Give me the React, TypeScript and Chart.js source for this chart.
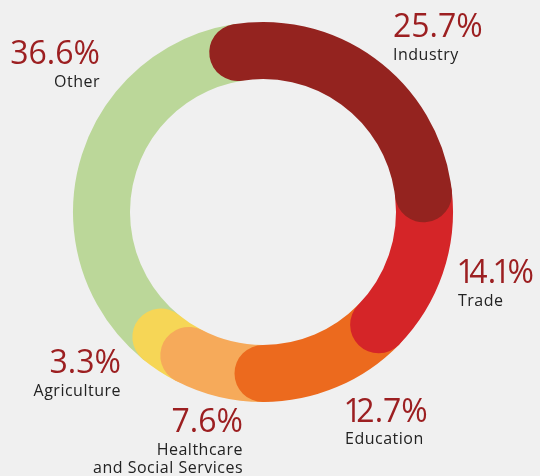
import React, { useEffect, useRef } from "react";
import { Chart, registerables } from "chart.js";

Chart.register(...registerables);

const categories = ["Industry", "Trade", "Education", "Healthcare and Social Services", "Agriculture", "Other"];
const nameLines = [["Industry"], ["Trade"], ["Education"], ["Healthcare", "and Social Services"], ["Agriculture"], ["Other"]];
const shares = [25.7, 14.1, 12.7, 7.6, 3.3, 36.6];
const colors = ["#94231f", "#d52528", "#ec6a1e", "#f6aa5a", "#f6d656", "#bbd799"];

// label layout (text placement only)
const labelLayout = [
  { x: 393, pct: 37, name: 60, align: "left" },
  { x: 458, pct: 283, name: 306, align: "left" },
  { x: 345, pct: 422, name: 444, align: "left" },
  { x: 243, pct: 432, name: 455, align: "right" },
  { x: 121, pct: 373, name: 396, align: "right" },
  { x: 100, pct: 64, name: 87, align: "right" },
];

function drawPct(ctx: any, text: string, x: number, y: number, align: string) {
  const chars = text.split("");
  const adv = chars.map((c) => {
    const w = ctx.measureText(c).width;
    return c === "1" ? w * 0.62 : w;
  });
  const total = adv.reduce((a, b) => a + b, 0);
  let cx = align === "right" ? x - total : x;
  ctx.textAlign = "left";
  chars.forEach((c, i) => {
    const w = ctx.measureText(c).width;
    const shift = c === "1" ? (w - adv[i]) / 2 - (i === 0 ? 2 : 0) : 0;
    ctx.fillText(c, cx - shift, y);
    cx += adv[i];
  });
}

const roundRingPlugin = {
  id: "roundRing",
  afterDatasetsDraw(chart: any) {
    const meta = chart.getDatasetMeta(0);
    const ctx = chart.ctx;
    ctx.save();
    for (let i = meta.data.length - 1; i >= 0; i--) {
      const el = meta.data[i];
      const p = el.getProps(["x", "y", "startAngle", "endAngle", "innerRadius", "outerRadius"], true);
      const r = (p.innerRadius + p.outerRadius) / 2;
      ctx.beginPath();
      ctx.arc(p.x, p.y, r, p.startAngle, p.endAngle);
      ctx.lineWidth = p.outerRadius - p.innerRadius;
      ctx.lineCap = "round";
      ctx.strokeStyle = colors[i];
      ctx.stroke();
    }
    ctx.restore();
  },
  afterDraw(chart: any) {
    const ctx = chart.ctx;
    const data = chart.data.datasets[0].data;
    ctx.save();
    ctx.textBaseline = "alphabetic";
    for (let i = 0; i < data.length; i++) {
      const L = labelLayout[i];
      ctx.fillStyle = "#9c1f21";
      ctx.font = "400 32px 'Open Sans'";
      ctx.letterSpacing = "0px";
      drawPct(ctx, Number(data[i]).toFixed(1) + "%", L.x, L.pct, L.align);
      ctx.fillStyle = "#222222";
      ctx.font = "400 16px 'Open Sans'";
      ctx.letterSpacing = "0.5px";
      ctx.textAlign = L.align;
      nameLines[i].forEach((line, j) => {
        ctx.fillText(line, L.x, L.name + j * 18);
      });
    }
    ctx.restore();
  },
};

export default function App() {
  const ref = useRef<HTMLCanvasElement>(null);
  useEffect(() => {
    const chart = new Chart(ref.current!, {
      type: "doughnut",
      data: {
        labels: categories,
        datasets: [
          {
            data: shares,
            backgroundColor: "rgba(0,0,0,0)",
            borderWidth: 0,
          },
        ],
      },
      options: {
        responsive: false,
        animation: false,
        rotation: -9,
        cutout: "70%",
        layout: { padding: { left: 73, right: 87, top: 22, bottom: 74 } },
        plugins: { legend: { display: false }, tooltip: { enabled: false } },
      },
      plugins: [roundRingPlugin],
    });
    return () => chart.destroy();
  }, []);
  return (
    <div style={{ position: "absolute", left: 0, top: 0, width: 540, height: 476, background: "#f0f0f0" }}>
      <canvas ref={ref} width={540} height={476} style={{ display: "block" }} />
    </div>
  );
}
